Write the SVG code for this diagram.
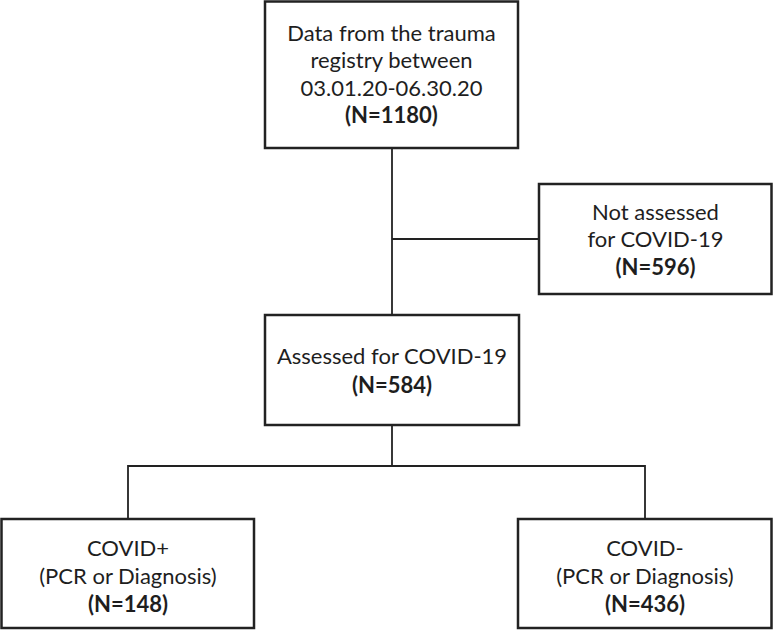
<svg xmlns="http://www.w3.org/2000/svg" width="773" height="630" viewBox="0 0 773 630">
<style>
.box{fill:#fff;stroke:#222;stroke-width:2.5}
.ln{fill:none;stroke:#222;stroke-width:1.8}
text{font-family:Lato,"Liberation Sans",sans-serif;font-size:22px;fill:#1e1e1e;text-anchor:middle}
.b{font-weight:bold}
</style>
<rect width="773" height="630" fill="#fff"/>
<g id="connectors">
<line class="ln" x1="392" y1="148" x2="392" y2="315"/>
<line class="ln" x1="392" y1="239" x2="539" y2="239"/>
<line class="ln" x1="392" y1="425" x2="392" y2="466"/>
<polyline class="ln" points="128,519 128,466 645,466 645,519"/>
</g>
<g id="registry">
<rect class="box" x="265" y="1.5" width="253" height="146.5"/>
<text x="391.5" y="41">Data from the trauma</text>
<text x="391.5" y="68">registry between</text>
<text x="391.5" y="96">03.01.20-06.30.20</text>
<text class="b" x="391.5" y="123">(N=1180)</text>
</g>
<g id="not-assessed">
<rect class="box" x="539" y="184" width="232.5" height="110"/>
<text x="655.5" y="220">Not assessed</text>
<text x="655.5" y="247">for COVID-19</text>
<text class="b" x="655.5" y="275">(N=596)</text>
</g>
<g id="assessed">
<rect class="box" x="265" y="315" width="254" height="110"/>
<text x="392" y="364">Assessed for COVID-19</text>
<text class="b" x="392" y="393">(N=584)</text>
</g>
<g id="covid-pos">
<rect class="box" x="1.5" y="519" width="252.5" height="109"/>
<text x="128" y="556">COVID+</text>
<text x="128" y="584">(PCR or Diagnosis)</text>
<text class="b" x="128" y="612">(N=148)</text>
</g>
<g id="covid-neg">
<rect class="box" x="518" y="519" width="253.5" height="109"/>
<text x="645" y="556">COVID-</text>
<text x="645" y="584">(PCR or Diagnosis)</text>
<text class="b" x="645" y="612">(N=436)</text>
</g>
</svg>
